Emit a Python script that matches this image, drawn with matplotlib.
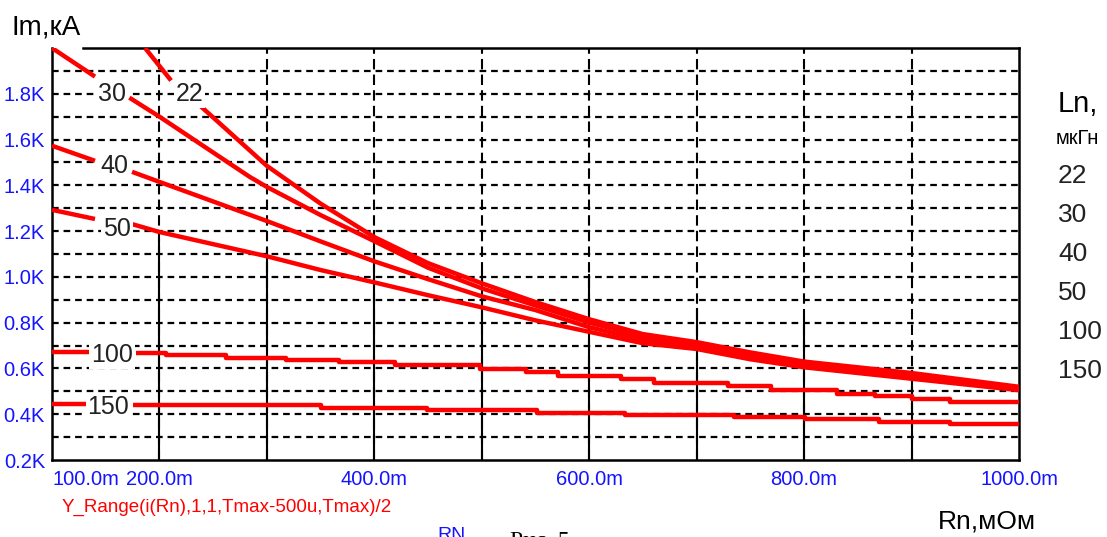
import matplotlib
matplotlib.use("Agg")
import matplotlib.pyplot as plt
import numpy as np

FONT = ['Liberation Sans', 'DejaVu Sans']
BLUE = '#1414ff'
RED = '#ff0000'

# Rn, mOhm  /  Im, kA   (None = gap for the curve label)
rn_22 = [186.6, 210.8, None, 237.8, 300, 350, 400, 450, 500, 550, 600, 650, 700, 750, 800, 900, 1000]
im_22 = [2.0, 1.858, None, 1.748, 1.485, 1.32, 1.174, 1.06, 0.972, 0.89, 0.815, 0.75, 0.715, 0.67, 0.63, 0.58, 0.52]

rn_30 = [100, 140, None, 172, 200, 284, 300, 350, 400, 450, 500, 550, 600, 650, 700, 750, 800, 900, 1000]
im_30 = [2.0, 1.875, None, 1.783, 1.70, 1.437, 1.393, 1.27, 1.156, 1.04, 0.95, 0.875, 0.80, 0.74, 0.705, 0.66, 0.62, 0.57, 0.515]

rn_40 = [100, 140, None, 174.5, 200, 300, 350, 400, 450, 500, 550, 600, 650, 700, 750, 800, 900, 1000]
im_40 = [1.573, 1.507, None, 1.459, 1.415, 1.244, 1.155, 1.068, 0.99, 0.915, 0.855, 0.78, 0.725, 0.695, 0.65, 0.615, 0.56, 0.51]

rn_50 = [100, 140, None, 175, 200, 300, 350, 400, 450, 500, 550, 600, 650, 700, 750, 800, 900, 1000]
im_50 = [1.293, 1.253, None, 1.23, 1.196, 1.09, 1.03, 0.976, 0.92, 0.867, 0.81, 0.76, 0.71, 0.685, 0.64, 0.605, 0.555, 0.505]

# staircase curves: level holds from each Rn to the next one
rn_100 = [100, 137, None, 178, 206, 262, 318, 367, 419, 498, 541, 571, 630, 660, 729, 769, 831, 866, 900, 936, 1000]
im_100 = [0.67, 0.67, None, 0.667, 0.658, 0.645, 0.637, 0.627, 0.613, 0.598, 0.585, 0.568, 0.555, 0.538, 0.522, 0.505, 0.49, 0.478, 0.468, 0.455, 0.455]

rn_150 = [100, 133, None, 175, 350, 449, 551, 633, 735, 801, 870, 936, 1000]
im_150 = [0.445, 0.445, None, 0.44, 0.428, 0.417, 0.406, 0.397, 0.387, 0.379, 0.368, 0.358, 0.358]

curve_labels = ['30', '22', '40', '50', '100', '150']
label_rn = [156, 228, 158, 160.5, 156, 152.5]
label_im = [1.80, 1.80, 1.485, 1.209, 0.66, 0.43]

legend_items = ['22', '30', '40', '50', '100', '150']

y_ticks = [0.2, 0.4, 0.6, 0.8, 1.0, 1.2, 1.4, 1.6, 1.8]
y_ticklabels = ['0.2K', '0.4K', '0.6K', '0.8K', '1.0K', '1.2K', '1.4K', '1.6K', '1.8K']
x_ticks = [100, 200, 400, 600, 800, 1000]
x_ticklabels = ['100.0m', '200.0m', '400.0m', '600.0m', '800.0m', '1000.0m']
x_grid = [200, 300, 400, 500, 600, 700, 800, 900]
# below this level the vertical grid lines are solid
x_grid_solid = [1.165, 1.12, 1.2, 1.02, 1.01, 0.86, 0.81, 0.59]

fig = plt.figure(figsize=(11.07, 5.37), dpi=100)
ax = fig.add_axes([52/1107, 1 - 460/537, 967/1107, 412/537])
ax.set_xlim(100, 1000)
ax.set_ylim(0.2, 2.0)

# grid
for yv in np.arange(0.3, 2.0, 0.1):
    ax.axhline(yv, color='black', lw=1.6, ls=(0, (3, 2.2)), zorder=1)
for xv, ys in zip(x_grid, x_grid_solid):
    ax.axvline(xv, color='black', lw=1.5, ls=(0, (5, 2.5)), zorder=1)
    ax.plot([xv, xv], [0.2, ys], color='black', lw=1.5, zorder=1)


def pieces(r, i):
    # split a curve where the label gap (None) is
    out, cr, ci = [], [], []
    for a, b in zip(r, i):
        if a is None:
            out.append((cr, ci))
            cr, ci = [], []
        else:
            cr.append(a)
            ci.append(b)
    out.append((cr, ci))
    return out


for r, i in [(rn_22, im_22), (rn_30, im_30), (rn_40, im_40), (rn_50, im_50)]:
    for pr, pi in pieces(r, i):
        ax.plot(pr, pi, color=RED, lw=3.2, zorder=3, solid_capstyle='butt')
for r, i in [(rn_100, im_100), (rn_150, im_150)]:
    for pr, pi in pieces(r, i):
        ax.plot(pr, pi, color=RED, lw=3.2, zorder=3, drawstyle='steps-post',
                solid_capstyle='butt')

for t, x, y in zip(curve_labels, label_rn, label_im):
    ax.text(x, y, t, ha='center', va='center', fontsize=18, color='#222222',
            family=FONT, zorder=4,
            bbox=dict(facecolor='white', edgecolor='none', pad=1.5))

ax.set_yticks(y_ticks)
ax.set_yticklabels(y_ticklabels, color=BLUE, fontsize=14.5, family=FONT)
ax.set_xticks(x_ticks)
ax.set_xticklabels(x_ticklabels, color=BLUE, fontsize=14.5, family=FONT)
ax.get_xticklabels()[0].set_horizontalalignment('left')
ax.tick_params(axis='y', length=0, pad=5)
ax.tick_params(axis='x', length=0, pad=7)

for s in ['left', 'bottom', 'right']:
    ax.spines[s].set_linewidth(1.8)
ax.spines['top'].set_visible(False)
ax.plot([31/967, 1], [1, 1], color='black', lw=1.8, transform=ax.transAxes, clip_on=False)

# texts around the plot
fig.text(12/1107, 1 - 28/537, 'Im,кА', fontsize=20, family=FONT, va='center', ha='left')
fig.text(938/1107, 1 - 521/537, 'Rn,мОм', fontsize=19, family=FONT, va='center', ha='left')
fig.text(62/1107, 1 - 507/537, 'Y_Range(i(Rn),1,1,Tmax-500u,Tmax)/2', fontsize=13.5,
         family=FONT, color=RED, va='center', ha='left')
fig.text(1058/1107, 1 - 104/537, 'Ln,', fontsize=21, family=FONT, va='center', ha='left')
fig.text(1056/1107, 1 - 139/537, 'мкГн', fontsize=14.5, family=FONT, va='center', ha='left')
for k, t in enumerate(legend_items):
    fig.text(1058/1107, 1 - (176 + 39 * k)/537, t, fontsize=19, family=FONT,
             color='#222222', va='center', ha='left')
fig.text(437/1107, 1 - 527/537, 'RN', fontsize=14, family=FONT, color=BLUE, va='top', ha='left')
fig.text(510/1107, 1 - 531/537, 'Рис. 5', fontsize=17, family='Liberation Serif',
         va='top', ha='left')

fig.savefig('out.png', dpi=100, facecolor='white')
